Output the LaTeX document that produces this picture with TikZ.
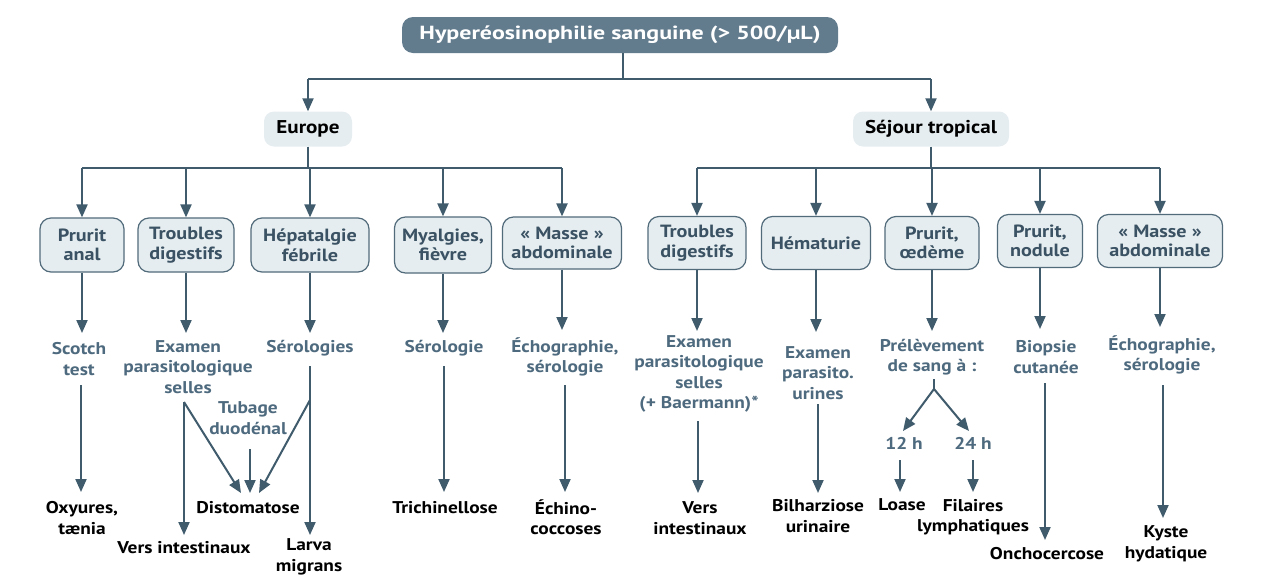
\documentclass[tikz,border=0pt]{standalone}
\usepackage{fontspec}
\setmainfont{PT Sans}[FakeStretch=1.14]
\newfontfamily\topfont{PT Sans}[FakeStretch=1.26]
\usetikzlibrary{arrows.meta}
\definecolor{arr}{HTML}{3F5B6C}
\definecolor{boxfill}{HTML}{E6EDF0}
\definecolor{topfill}{HTML}{627C8E}
\definecolor{examc}{HTML}{4E6A7E}
\definecolor{catc}{HTML}{3A5263}
\newcommand{\txtfont}{\bfseries\fontsize{17}{20.5}\selectfont}
\newcommand{\catfont}{\bfseries\fontsize{17.7}{19.5}\selectfont}
\begin{document}
\begin{tikzpicture}[x=1pt,y=-1pt,
  conn/.style={draw=arr, line width=2pt},
  arrw/.style={conn, -{Triangle[length=13pt,width=11pt]}},
  cat/.style={rounded corners=11pt, draw=arr!90, line width=1.2pt, fill=boxfill, align=center, inner sep=0pt, font=\catfont, text=catc},
  region/.style={rounded corners=10pt, fill=boxfill, inner sep=0pt, minimum height=35, font=\bfseries\fontsize{18.5}{20}\selectfont, text=black},
  examt/.style={align=center, inner sep=0pt, font=\txtfont, text=examc},
  rest/.style={align=center, inner sep=0pt, font=\txtfont, text=black}]
\useasboundingbox[fill=white] (0,0) rectangle (1280,587);

% top
\node[rounded corners=11pt, fill=topfill, text=white, minimum width=436, minimum height=36, inner sep=0pt,
  font=\topfont\bfseries\fontsize{19}{20}\selectfont] (top) at (620,35) {Hyperéosinophilie sanguine (> 500/µL)};
\node[region, minimum width=88] (eu) at (308,129) {Europe};
\node[region, minimum width=156] (st) at (931,129) {Séjour tropical};

\coordinate (tb) at (623,79);
\coordinate (tl) at (308,79);
\coordinate (tr) at (931,79);
\draw[conn] (top.south -| tb) -- (tb);
\draw[conn] (tl) -- (tr);
\draw[arrw] (tl) -- (eu.north);
\draw[arrw] (tr) -- (st.north);

% Europe categories
\node[cat, minimum width=84, minimum height=54] (pa) at (82,245) {Prurit\\anal};
\node[cat, minimum width=96, minimum height=54] (td) at (186,245) {Troubles\\digestifs};
\node[cat, minimum width=118, minimum height=54] (hf) at (310,245) {Hépatalgie\\fébrile};
\node[cat, minimum width=97, minimum height=56] (mf) at (443,245) {Myalgies,\\fièvre};
\node[cat, minimum width=119, minimum height=52] (ma) at (562,243) {« Masse »\\abdominale};

\coordinate (eb) at (308,168);
\coordinate (el) at (82,168);
\coordinate (er) at (562,168);
\draw[conn] (eu.south) -- (eb);
\draw[conn] (el) -- (er);
\foreach \n in {pa,td,hf,mf,ma} \draw[arrw] (\n.north |- eb) -- (\n.north);

% Tropical categories
\node[cat, minimum width=98, minimum height=53] (t1) at (697,243) {Troubles\\digestifs};
\node[cat, minimum width=109, minimum height=53] (t2) at (816,243) {Hématurie};
\node[cat, minimum width=94, minimum height=53] (t3) at (932,243) {Prurit,\\œdème};
\node[cat, minimum width=85, minimum height=53] (t4) at (1040,241) {Prurit,\\nodule};
\node[cat, minimum width=125, minimum height=53] (t5) at (1160,241) {« Masse »\\abdominale};

\coordinate (sb) at (931,168);
\coordinate (sl) at (697,168);
\coordinate (sr) at (1160,168);
\draw[conn] (st.south) -- (sb);
\draw[conn] (sl) -- (sr);
\foreach \n in {t1,t2,t3,t4,t5} \draw[arrw] (\n.north |- sb) -- (\n.north);

% ---- Europe column 1
\coordinate (a1) at (82,333);
\draw[arrw] (pa.south) -- (a1);
\node[examt] (e1) at (79,359) {Scotch\\test};
\coordinate (s1) at (81,385);
\coordinate (f1) at (81,492);
\draw[arrw] (s1) -- (f1);
\node[rest] (r1) at (82,518) {Oxyures,\\tænia};

% ---- column 2
\coordinate (a2) at (186,333);
\draw[arrw] (td.south) -- (a2);
\node[examt] (e2) at (188,367) {Examen\\parasitologique\\selles};
\coordinate (s2) at (184,402);
\coordinate (f2a) at (184,535);
\coordinate (f2b) at (241,493);
\draw[arrw] (s2) -- (f2a);
\draw[arrw] (s2) -- (f2b);
\node[examt] (tub) at (248,418) {Tubage\\duodénal};
\coordinate (s2c) at (250,449);
\coordinate (f2c) at (250,493);
\draw[arrw] (s2c) -- (f2c);
\node[rest] (dist) at (248,508) {Distomatose};
\node[rest] (vers1) at (184,548) {Vers intestinaux};

% ---- column 3
\coordinate (a3) at (310,333);
\draw[arrw] (hf.south) -- (a3);
\node[examt] (e3) at (310,348) {Sérologies};
\coordinate (s3) at (310,366);
\coordinate (m3) at (310,400);
\coordinate (f3a) at (310,535);
\coordinate (f3b) at (259,493);
\draw[arrw] (s3) -- (f3a);
\draw[arrw] (m3) -- (f3b);
\node[rest] (larva) at (309,557) {Larva\\migrans};

% ---- column 4
\coordinate (a4) at (443,333);
\draw[arrw] (mf.south) -- (a4);
\node[examt] (e4) at (444,348) {Sérologie};
\coordinate (s4) at (444,366);
\coordinate (f4) at (444,492);
\draw[arrw] (s4) -- (f4);
\node[rest] (r4) at (445,508) {Trichinellose};

% ---- column 5
\coordinate (a5) at (562,330);
\draw[arrw] (ma.south) -- (a5);
\node[examt] (e5) at (565,357) {Échographie,\\sérologie};
\coordinate (s5) at (565,385);
\coordinate (f5) at (565,492);
\draw[arrw] (s5) -- (f5);
\node[rest] (r5) at (566,517) {Échino-\\coccoses};

% ---- Tropical column 1
\coordinate (b1) at (697,331);
\draw[arrw] (t1.south) -- (b1);
\node[examt] (x1) at (699,374) {Examen\\parasitologique\\selles\\(+ Baermann)*};
\coordinate (u1) at (698,421);
\coordinate (v1) at (698,493);
\draw[arrw] (u1) -- (v1);
\node[rest] (q1) at (700,518) {Vers\\intestinaux};

% ---- Tropical column 2
\coordinate (b2) at (816,332);
\draw[arrw] (t2.south) -- (b2);
\node[examt] (x2) at (818,373) {Examen\\parasito.\\urines};
\coordinate (u2) at (818,404);
\coordinate (v2) at (818,493);
\draw[arrw] (u2) -- (v2);
\node[rest] (q2) at (818,516) {Bilharziose\\urinaire};

% ---- Tropical column 3
\coordinate (b3) at (932,331);
\draw[arrw] (t3.south) -- (b3);
\node[examt] (x3) at (932,357) {Prélèvement\\de sang à :};
\coordinate (u3) at (934,379);
\coordinate (k3) at (934,389);
\coordinate (h12) at (903,431);
\coordinate (h24) at (969,431);
\draw[conn] (u3) -- (k3);
\draw[arrw] (k3) -- (h12);
\draw[arrw] (k3) -- (h24);
\node[examt] (n12) at (904,443) {12 h};
\node[examt] (n24) at (973,443) {24 h};
\coordinate (w12) at (900,460);
\coordinate (z12) at (900,492);
\coordinate (w24) at (973,460);
\coordinate (z24) at (973,492);
\draw[arrw] (w12) -- (z12);
\draw[arrw] (w24) -- (z24);
\node[rest] (loase) at (902,505) {Loase};
\node[rest] (fil) at (973,517) {Filaires\\lymphatiques};

% ---- Tropical column 4
\coordinate (b4) at (1040,329);
\draw[arrw] (t4.south) -- (b4);
\node[examt] (x4) at (1046,357) {Biopsie\\cutanée};
\coordinate (u4) at (1045,383);
\coordinate (v4) at (1045,540);
\draw[arrw] (u4) -- (v4);
\node[rest] (q4) at (1047,554) {Onchocercose};

% ---- Tropical column 5
\coordinate (b5) at (1160,327);
\draw[arrw] (t5.south) -- (b5);
\node[examt] (x5) at (1162,355) {Échographie,\\sérologie};
\coordinate (u5) at (1163,385);
\coordinate (v5) at (1163,518);
\draw[arrw] (u5) -- (v5);
\node[rest] (q5) at (1166,544) {Kyste\\hydatique};
\end{tikzpicture}
\end{document}
